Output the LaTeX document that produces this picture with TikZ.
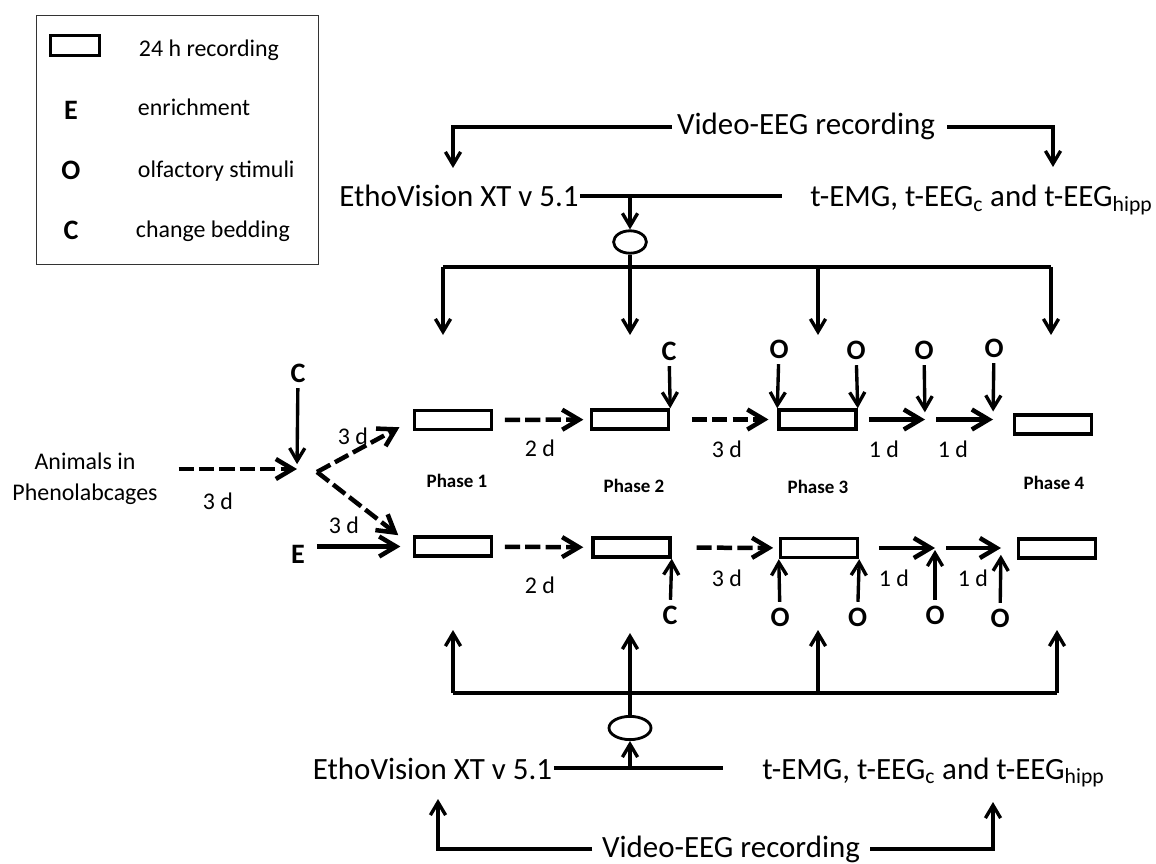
\documentclass[tikz,border=0pt]{standalone}
\usepackage{fontspec}
\setmainfont{Carlito}
\usetikzlibrary{arrows.meta, shapes.geometric}

\begin{document}
\begin{tikzpicture}[x=2.5cm, y=-2.5cm,
    line/.style={line width=2.9pt},
    arr/.style={line width=2.4pt, -{Straight Barb[length=0.32cm, width=0.38cm]}},
    bigarr/.style={line width=3.2pt, -{Straight Barb[length=0.42cm, width=0.5cm]}},
    dasharr/.style={bigarr, dash pattern=on 0.38cm off 0.13cm},
    recbox/.style={draw, line width=2.3pt, minimum width=1.93cm, minimum height=0.48cm, inner sep=0pt},
    ell/.style={draw, ellipse, line width=2pt, inner sep=0pt},
    bigtxt/.style={font=\fontsize{22}{26}\selectfont, inner sep=1pt, anchor=base},
    daytxt/.style={font=\fontsize{17}{22}\selectfont},
    phasetxt/.style={font=\bfseries\fontsize{13.5}{16}\selectfont},
    legtxt/.style={font=\fontsize{17}{20}\selectfont, anchor=west},
    lettr/.style={font=\bfseries\fontsize{20}{24}\selectfont, inner sep=4pt}]
    \useasboundingbox (0,0) rectangle (11.56,8.64);

    % 图例
    \draw[line width=0.7pt, draw=black!80] (0.36,0.15) rectangle (3.18,2.64);
    \node[recbox, minimum width=1.23cm, minimum height=0.5cm] (lrec) at (0.75,0.455) {};
    \node[legtxt] (lt1) at (1.34,0.50) {24 h recording};
    \node[lettr] (le) at (0.71,1.10) {E};
    \node[legtxt] (lt2) at (1.33,1.07) {enrichment};
    \node[lettr] (lo) at (0.71,1.70) {O};
    \node[legtxt] (lt3) at (1.33,1.71) {olfactory stimuli};
    \node[lettr] (lc) at (0.71,2.30) {C};
    \node[legtxt] (lt4) at (1.31,2.31) {change bedding};

    % 上方记录
    \node[bigtxt] (vtop) at (8.06,1.35) {Video-EEG recording};
    \node[bigtxt] (etop) at (4.59,2.07) {EthoVision XT v 5.1};
    \node[bigtxt] (mtop) at (9.815,2.07) {t-EMG, t-EEG\textsubscript{c} and t-EEG\textsubscript{hipp}};
    \node[ell, minimum width=0.82cm, minimum height=0.56cm] (otop) at (6.30,2.42) {};
    \coordinate (et) at (4.53,1.68);
    \coordinate (mt) at (10.53,1.67);
    \coordinate (tend) at (7.82,1.95);
    \coordinate (bt) at (0,2.67);
    \coordinate (t1) at (4.43,3.35);
    \coordinate (t2) at (6.30,3.35);
    \coordinate (t3) at (8.18,3.35);
    \coordinate (t4) at (10.51,3.35);

    \draw[arr] ([xshift=-0.08cm]vtop.west) -| (et);
    \draw[arr] ([xshift=0.27cm]vtop.east) -| (mt);
    \draw[line] (etop.east) -- (etop.east -| tend);
    \draw[arr] (etop.east -| otop) -- (otop);
    \draw[line] (otop) -- (otop |- bt);
    \draw[line] (t1 |- bt) -- (t4 |- bt);
    \foreach \t in {t1,t2,t3,t4}
        \draw[arr] (\t |- bt) -- (\t);

    % 左侧
    \node[daytxt, align=center] (anim) at (0.85,4.785) {Animals in\\Phenolabcages};
    \coordinate (fork) at (2.97,4.69);
    \coordinate (forkout) at (3.17,4.72);
    \node[lettr] (cl) at (2.98,3.73) {C};
    \node[lettr] (el) at (2.98,5.54) {E};
    \node[daytxt] (d0) at (2.18,5.01) {3 d};
    \node[daytxt] (d1) at (3.53,4.36) {3 d};
    \node[daytxt] (d2) at (3.44,5.25) {3 d};

    % 盒子
    \node[recbox] (p1t) at (4.53,4.20) {};
    \node[recbox] (p2t) at (6.30,4.195) {};
    \node[recbox] (p3t) at (8.175,4.195) {};
    \node[recbox] (p4t) at (10.53,4.245) {};
    \node[recbox] (p1b) at (4.53,5.465) {};
    \node[recbox] (p2b) at (6.315,5.475) {};
    \node[recbox] (p3b) at (8.19,5.48) {};
    \node[recbox] (p4b) at (10.57,5.485) {};
    \coordinate (jt1) at (9.25,4.195);
    \coordinate (jt2) at (9.93,4.195);
    \coordinate (jb1) at (9.35,5.48);
    \coordinate (jb2) at (10.01,5.48);

    \draw[dasharr, shorten <=0.4cm] (anim.east |- fork) -- (fork);
    \draw[arr, shorten >=0.12cm] (cl) -- (fork);
    \draw[dasharr, shorten >=0.38cm] (forkout) -- (p1t.west);
    \draw[dasharr, shorten >=0.46cm] (forkout) -- (p1b.west);
    \draw[bigarr, shorten <=0.15cm, shorten >=0.31cm] (el.east |- p1b.west) -- (p1b.west);

    % 上排
    \draw[dasharr, shorten <=0.29cm, shorten >=0.16cm] (p1t) -- (p2t);
    \draw[dasharr, shorten <=0.54cm, shorten >=0.22cm] (p2t) -- (p3t);
    \draw[bigarr, shorten <=0.28cm] (p3t.east) -- (jt1);
    \draw[bigarr, shorten <=0.28cm] (jt1) -- (jt2);
    \node[lettr] (c2t) at (6.69,3.51) {C};
    \node[lettr] (o3ta) at (7.79,3.49) {O};
    \node[lettr] (o3tb) at (8.56,3.50) {O};
    \node[lettr] (o4t) at (9.24,3.50) {O};
    \node[lettr] (o5t) at (9.94,3.48) {O};
    \draw[arr] (c2t) -- (p2t.north east);
    \draw[arr] (o3ta) -- (p3t.north west);
    \draw[arr] (o3tb) -- (p3t.north east);
    \draw[arr, shorten >=0.18cm] (o4t) -- (jt1);
    \draw[arr, shorten >=0.2cm] (o5t) -- (jt2);
    \node[daytxt] (d3) at (5.40,4.48) {2 d};
    \node[daytxt] (d4) at (7.27,4.49) {3 d};
    \node[daytxt] (d5) at (8.84,4.49) {1 d};
    \node[daytxt] (d6) at (9.53,4.49) {1 d};

    % 阶段
    \node[phasetxt] (ph1) at (4.57,4.81) {Phase 1};
    \node[phasetxt] (ph2) at (6.34,4.86) {Phase 2};
    \node[phasetxt] (ph3) at (8.18,4.87) {Phase 3};
    \node[phasetxt] (ph4) at (10.54,4.83) {Phase 4};

    % 下排
    \draw[dasharr, shorten <=0.29cm, shorten >=0.2cm] (p1b) -- (p2b);
    \draw[dasharr, shorten <=0.62cm, shorten >=0.14cm] (p2b) -- (p3b);
    \draw[bigarr, shorten <=0.49cm] (p3b.east) -- (jb1);
    \draw[bigarr, shorten <=0.28cm] (jb1) -- (jb2);
    \node[lettr] (c2b) at (6.70,6.15) {C};
    \node[lettr] (o3ba) at (7.80,6.17) {O};
    \node[lettr] (o3bb) at (8.575,6.17) {O};
    \node[lettr] (o4b) at (9.35,6.15) {O};
    \node[lettr] (o5b) at (10.00,6.18) {O};
    \draw[arr] (c2b) -- (p2b.south east);
    \draw[arr] (o3ba) -- (p3b.south west);
    \draw[arr] (o3bb) -- (p3b.south east);
    \draw[arr, shorten >=0.05cm] (o4b) -- (jb1);
    \draw[arr, shorten >=0.17cm] (o5b) -- (jb2);
    \node[daytxt] (d7) at (5.40,5.85) {2 d};
    \node[daytxt] (d8) at (7.27,5.78) {3 d};
    \node[daytxt] (d9) at (8.94,5.78) {1 d};
    \node[daytxt] (d10) at (9.73,5.78) {1 d};

    % 下方记录
    \node[bigtxt] (ebot) at (4.325,7.79) {EthoVision XT v 5.1};
    \node[bigtxt] (mbot) at (9.335,7.79) {t-EMG, t-EEG\textsubscript{c} and t-EEG\textsubscript{hipp}};
    \node[bigtxt] (vbot) at (7.31,8.57) {Video-EEG recording};
    \node[ell, minimum width=1.05cm, minimum height=0.58cm] (obot) at (6.30,7.28) {};
    \coordinate (eb) at (4.38,7.99);
    \coordinate (mb) at (9.93,8.02);
    \coordinate (bend) at (7.23,7.68);
    \coordinate (bb) at (0,6.93);
    \coordinate (u1) at (4.53,6.30);
    \coordinate (u2) at (6.30,6.33);
    \coordinate (u3) at (8.18,6.30);
    \coordinate (u4) at (10.57,6.30);

    \draw[arr] ([xshift=-0.2cm]vbot.west) -| (eb);
    \draw[arr] ([xshift=0.22cm]vbot.east) -| (mb);
    \draw[line] (ebot.east) -- (ebot.east -| bend);
    \draw[arr] (ebot.east -| obot) -- (obot);
    \draw[arr] (obot) -- (u2);
    \draw[line] (u1 |- bb) -- (u4 |- bb);
    \foreach \u in {u1,u3,u4}
        \draw[arr] (\u |- bb) -- (\u);
\end{tikzpicture}
\end{document}
